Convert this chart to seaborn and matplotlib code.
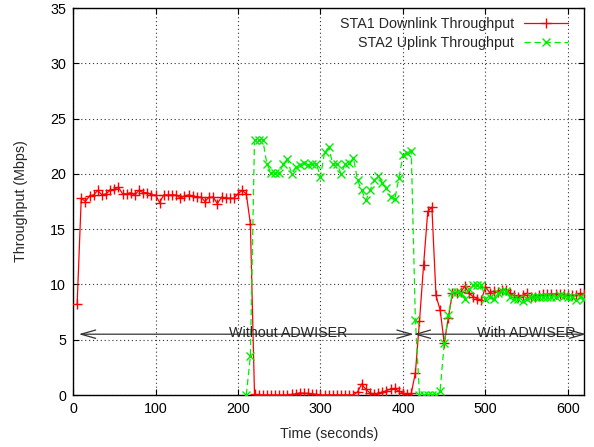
import matplotlib
matplotlib.use("Agg")
import matplotlib.pyplot as plt
import seaborn as sns
import numpy as np
import pandas as pd

# ---- data ----
down_time = list(range(5, 625, 5))
down_tput = [
    8.2, 17.8, 17.5, 18.0, 18.1, 18.5, 18.1, 18.2, 18.5, 18.6,   # 5-50
    18.8, 18.2, 18.2, 18.3, 18.1, 18.5, 18.3, 18.3, 18.1, 18.1,  # 55-100
    17.4, 18.1, 18.1, 18.1, 18.1, 17.8, 18.0, 18.1, 18.0, 17.9,  # 105-150
    17.9, 17.5, 17.9, 17.9, 17.3, 17.9, 17.8, 17.8, 17.8, 18.2,  # 155-200
    18.5, 18.2, 15.5, 0.05, 0.0, 0.0, 0.0, 0.0, 0.0, 0.0,        # 205-250
    0.0, 0.0, 0.05, 0.1, 0.2, 0.15, 0.15, 0.1, 0.05, 0.0,        # 255-300
    0.0, 0.0, 0.0, 0.0, 0.0, 0.0, 0.0, 0.0, 0.3, 1.0,            # 305-350
    0.5, 0.2, 0.1, 0.15, 0.25, 0.4, 0.55, 0.6, 0.35, 0.2,        # 355-400
    0.05, 0.15, 2.0, 6.7, 11.8, 16.6, 17.0, 9.0, 7.7, 4.7,       # 405-450
    7.0, 9.25, 9.25, 9.3, 9.85, 9.2, 8.9, 8.7, 8.6, 9.8,         # 455-500
    9.25, 9.4, 9.3, 9.5, 9.5, 9.2, 9.0, 8.9, 9.0, 9.2,           # 505-550
    8.9, 8.9, 9.0, 9.1, 9.1, 9.15, 9.15, 9.1, 9.1, 9.0,          # 555-600
    9.0, 9.0, 9.2, 9.1,                                          # 605-620
]

up_time = list(range(210, 625, 5))
up_tput = [
    0.0, 3.5, 23.1, 23.1, 23.1, 20.9, 20.1, 20.1, 20.1, 20.9,    # 210-255
    21.3, 20.0, 20.6, 20.8, 21.0, 20.8, 20.9, 20.9, 19.7, 22.0,  # 260-305
    22.4, 20.85, 20.9, 20.0, 20.9, 20.95, 21.4, 19.4, 18.5, 17.6,  # 310-355
    18.5, 19.4, 19.8, 19.2, 18.7, 17.9, 17.7, 19.6, 21.7, 21.9,  # 360-405
    22.1, 6.8, 0.0, 0.0, 0.0, 0.0, 0.0, 0.4, 4.7, 7.2,           # 410-455
    9.3, 9.3, 9.2, 8.7, 9.6, 9.95, 9.95, 9.95, 8.7, 8.9,         # 460-505
    8.65, 9.25, 9.4, 9.4, 8.85, 8.7, 8.7, 8.5, 8.7, 8.85,        # 510-555
    8.85, 8.85, 8.9, 8.9, 8.9, 8.85, 9.05, 8.95, 8.9, 8.9,       # 560-605
    8.6, 8.85, 8.65,                                             # 610-620
]

series_labels = ["STA1 Downlink Throughput", "STA2 Uplink Throughput"]
x_ticks = [0, 100, 200, 300, 400, 500, 600]
y_ticks = [0, 5, 10, 15, 20, 25, 30, 35]
region_labels = ["Without ADWISER", "With ADWISER"]

# ---- style ----
sns.set_style("ticks")
plt.rcParams["font.family"] = ["Liberation Sans", "DejaVu Sans"]
FS = 10.3

fig = plt.figure(figsize=(5.94, 4.47), dpi=100)
ax = fig.add_axes([0.1229, 0.1163, 0.8611, 0.8658])

df_down = pd.DataFrame({"t": down_time, "v": down_tput})
df_up = pd.DataFrame({"t": up_time, "v": up_tput})

sns.lineplot(data=df_down, x="t", y="v", ax=ax, color="#ff0000", lw=0.9,
             marker="+", markersize=7.5, markeredgewidth=1.0,
             markeredgecolor="#ff0000", estimator=None, sort=False,
             label=series_labels[0], zorder=3)
sns.lineplot(data=df_up, x="t", y="v", ax=ax, color="#00ee00", lw=0.9,
             linestyle=(0, (5, 3)), marker="x", markersize=6,
             markeredgewidth=1.0, markeredgecolor="#00ee00",
             estimator=None, sort=False, label=series_labels[1], zorder=3)

ax.set_xlim(0, 620)
ax.set_ylim(0, 35)
ax.set_xticks(x_ticks)
ax.set_yticks(y_ticks)
ax.set_xticklabels([str(v) for v in x_ticks], fontsize=FS)
ax.set_yticklabels([str(v) for v in y_ticks], fontsize=FS)
ax.tick_params(direction="in", length=4.5, width=0.8, top=True, right=True,
               colors="black", pad=5)
ax.grid(True, linestyle=(0, (1, 2.5)), color="0.2", lw=0.8)
for s in ax.spines.values():
    s.set_color("black")
    s.set_linewidth(1.0)

ax.set_xlabel("Time (seconds)", fontsize=FS, labelpad=8)
ax.set_ylabel("Throughput (Mbps)", fontsize=FS, labelpad=16)

# arrows and region labels
arrow_kw = dict(arrowstyle="<->,head_length=1.05,head_width=0.3",
                color="#333333", lw=0.9, shrinkA=0, shrinkB=0)
ax.annotate("", xy=(7, 5.5), xytext=(413, 5.5), arrowprops=arrow_kw)
ax.annotate("", xy=(413, 5.5), xytext=(622, 5.5), arrowprops=arrow_kw,
            annotation_clip=False)
ax.text(261, 5.65, region_labels[0], fontsize=FS, ha="center", va="center")
ax.text(549, 5.65, region_labels[1], fontsize=FS, ha="center", va="center")

leg = ax.legend(loc="upper right", bbox_to_anchor=(0.968, 0.978),
                frameon=False, markerfirst=False, fontsize=FS,
                handlelength=3.1, handletextpad=0.7, labelspacing=0.38,
                borderaxespad=0, borderpad=0)

fig.savefig("out.png", dpi=100)
